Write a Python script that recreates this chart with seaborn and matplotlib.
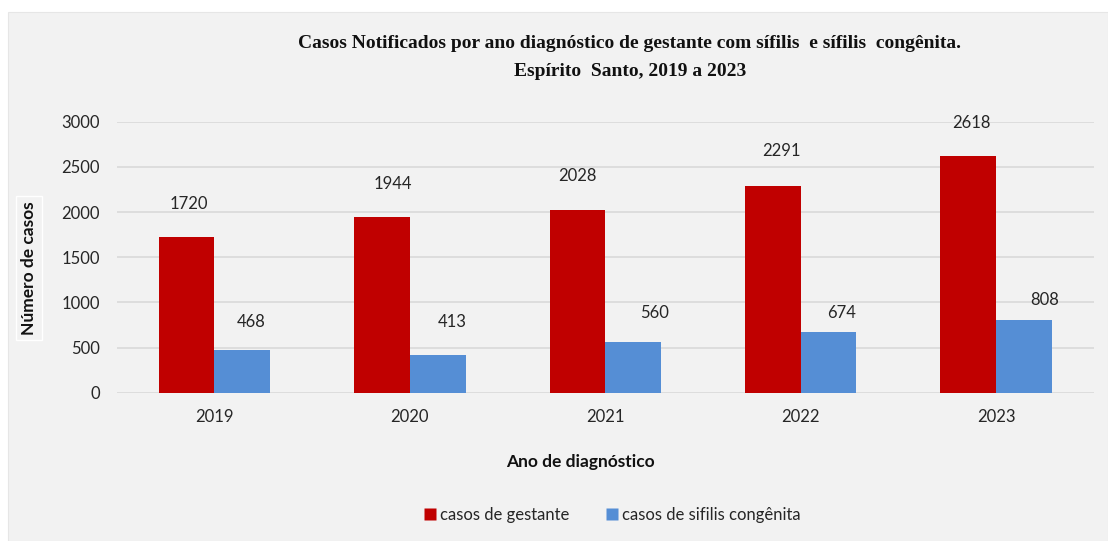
import matplotlib
matplotlib.use("Agg")
import matplotlib.pyplot as plt
from matplotlib.patches import Rectangle
from matplotlib.lines import Line2D
import seaborn as sns
import pandas as pd

anos = ["2019", "2020", "2021", "2022", "2023"]
gestante = [1720, 1944, 2028, 2291, 2618]
congenita = [468, 413, 560, 674, 808]
series_names = ["casos de gestante", "casos de sifilis congênita"]
colors = ["#C00000", "#558ED5"]

# label offsets (pixels) relative to bar top centre
red_off = [(2, 33), (11, 33), (0, 34), (9, 35), (3, 33)]
blue_off = [(9, 28), (14, 33), (21, 29), (13, 19), (21, 20)]

df = pd.DataFrame({
    "ano": anos * 2,
    "valor": gestante + congenita,
    "serie": [series_names[0]] * len(anos) + [series_names[1]] * len(anos),
})

sns.set_theme(style="white")
plt.rcParams["font.family"] = ["Lato", "DejaVu Sans"]

W, H = 1108, 541
fig = plt.figure(figsize=(W / 100, H / 100), dpi=100)
fig.patch.set_facecolor("white")
fig.patches.append(Rectangle((8 / W, 0), 1 - 8 / W, 1 - 12 / H, transform=fig.transFigure,
                             facecolor="#F2F2F2", edgecolor="#E6E6E6", lw=0.8, zorder=-10))

ax = fig.add_axes([116.8 / W, 1 - 392.7 / H, (1093.7 - 116.8) / W, (392.7 - 121.7) / H])
ax.set_facecolor("#F2F2F2")
ax.patch.set_alpha(0)

sns.barplot(data=df, x="ano", y="valor", hue="serie", palette=colors, width=0.57,
            saturation=1, ax=ax, legend=False, edgecolor="none", zorder=3)

ax.set_ylim(0, 3000)
ax.set_yticks(range(0, 3001, 500))
ax.grid(axis="y", color="#D9D9D9", lw=1.2, zorder=0)
ax.set_axisbelow(True)
for s in ax.spines.values():
    s.set_visible(False)
ax.tick_params(axis="both", length=0, labelsize=12, colors="#262626")
ax.tick_params(axis="x", pad=12)
ax.tick_params(axis="y", pad=12)
ax.set_xlabel("")
ax.set_ylabel("")

for cont, offs, vals in zip(ax.containers, [red_off, blue_off], [gestante, congenita]):
    for bar, (dx, dy), v in zip(cont.patches, offs, vals):
        x = bar.get_x() + bar.get_width() / 2
        ax.annotate(str(v), (x, bar.get_height()), xytext=(dx * 0.72, dy * 0.72),
                    textcoords="offset points", ha="center", va="center",
                    fontsize=12, color="#262626", annotation_clip=False)

fig.text(630 / W, 1 - 43 / H, "Casos Notificados por ano diagnóstico de gestante com sífilis  e sífilis  congênita.",
         ha="center", va="center", fontsize=14, fontweight="bold", family="Liberation Serif", color="#111111")
fig.text(630 / W, 1 - 72 / H, "Espírito  Santo, 2019 a 2023",
         ha="center", va="center", fontsize=14, fontweight="bold", family="Liberation Serif", color="#111111")

fig.text(580 / W, 1 - 462 / H, "Ano de diagnóstico", ha="center", va="center",
         fontsize=12.5, fontweight="bold", color="#111111")
fig.text(29 / W, 1 - 268 / H, "Número de casos", ha="center", va="center", rotation=90,
         fontsize=12.5, fontweight="bold", color="#111111",
         bbox=dict(boxstyle="square,pad=0.3", facecolor="#F2F2F2", edgecolor="white", lw=1))

handles = [Line2D([], [], marker="s", ls="none", markersize=8, markerfacecolor=c, markeredgecolor="none")
           for c in colors]
fig.legend(handles, series_names, loc="center", bbox_to_anchor=(612 / W, 1 - 515 / H), ncol=2,
           frameon=False, fontsize=12, handletextpad=0.2, columnspacing=2.2, handlelength=0.8,
           labelcolor="#262626")

fig.savefig("out.png", dpi=100)
